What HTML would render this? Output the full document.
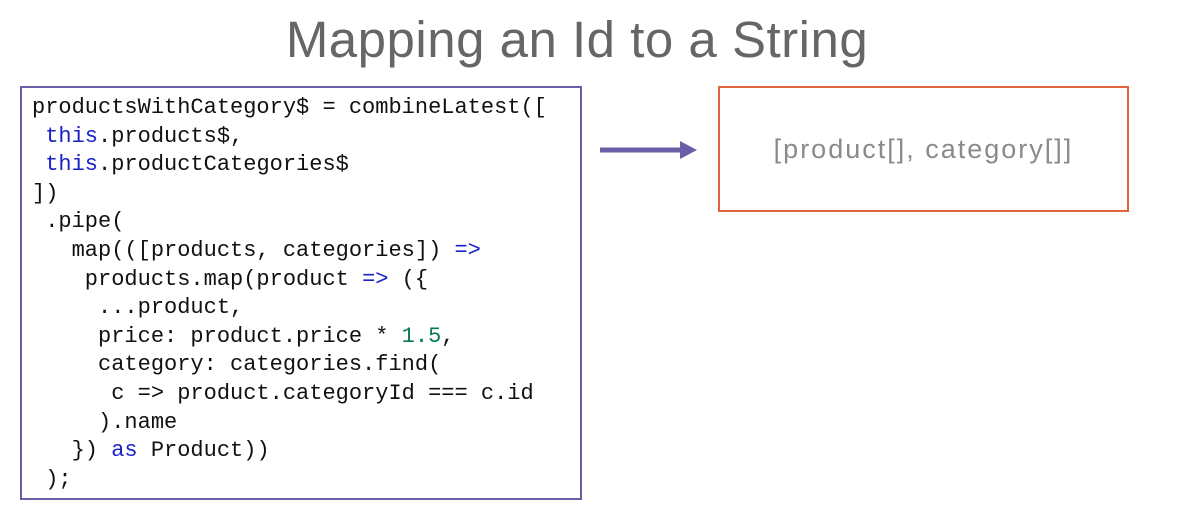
<!DOCTYPE html>
<html><head><meta charset="utf-8"><style>
body{margin:0;width:1179px;height:530px;background:#fff;position:relative;overflow:hidden;font-family:"Liberation Sans",sans-serif}
.title{position:absolute;left:0;width:1154px;top:10px;text-align:center;font-size:51px;color:#666;font-weight:300;letter-spacing:0.5px}
.code{position:absolute;left:20px;top:86px;width:558px;height:410px;border:2.5px solid #6a5ea6}
pre{margin:0;position:absolute;left:10px;top:6px;font-family:"Liberation Mono",monospace;font-size:22px;line-height:28.6px;color:#111}
.k{color:#1a22c8}.n{color:#0a7a55}
.box{position:absolute;left:718px;top:86px;width:407px;height:122px;border:2.5px solid #e0653a;display:flex;align-items:center;justify-content:center;color:#8a8a8a;font-size:27px;letter-spacing:2px}
</style></head><body>
<div class="title">Mapping an Id to a String</div>
<div class="code"><pre>productsWithCategory$ = combineLatest([
 <span class="k">this</span>.products$,
 <span class="k">this</span>.productCategories$
])
 .pipe(
   map(([products, categories]) <span class="k">=&gt;</span>
    products.map(product <span class="k">=&gt;</span> ({
     ...product,
     price: product.price * <span class="n">1.5</span>,
     category: categories.find(
      c =&gt; product.categoryId === c.id
     ).name
   }) <span class="k">as</span> Product))
 );</pre></div>
<svg style="position:absolute;left:0;top:0" width="1179" height="530"><line x1="600" y1="150" x2="682" y2="150" stroke="#6a5ea6" stroke-width="5"/><polygon points="680,141 697,150 680,159" fill="#6a5ea6"/></svg>
<div class="box">[product[], category[]]</div>
</body></html>
